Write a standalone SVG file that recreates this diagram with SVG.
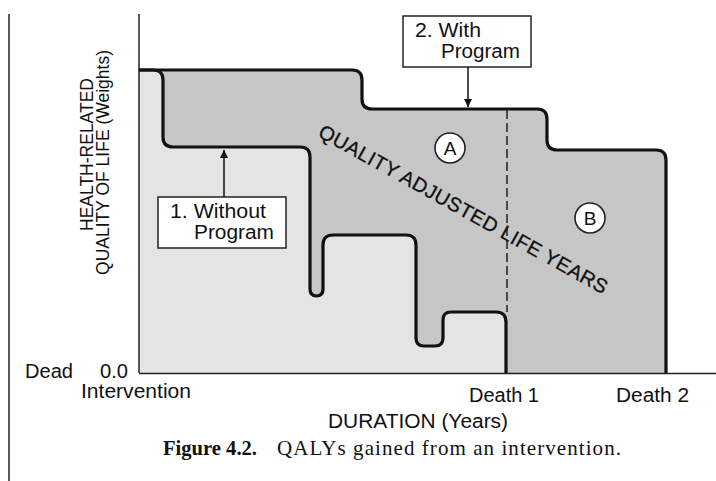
<svg xmlns="http://www.w3.org/2000/svg" width="716" height="481" viewBox="0 0 716 481">
<defs>
<style>
.sans{font-family:"Liberation Sans",Arial,sans-serif;fill:#111}
.lbl{font-size:20px}
.ylbl{font-size:17.5px}
.box{fill:#fff;stroke:#222;stroke-width:1.5}
.curve{fill:none;stroke:#111;stroke-width:3.2;stroke-linejoin:round}
.axis{stroke:#222;stroke-width:1.5;fill:none}
.circ{fill:#fff;stroke:#222;stroke-width:1.6}
.conn{stroke:#111;stroke-width:1.5;fill:none}
</style>
<marker id="ah" viewBox="0 0 10 10" refX="10" refY="5" markerWidth="11" markerHeight="8" markerUnits="userSpaceOnUse" orient="auto">
<path d="M0,0 L10,5 L0,10 Z" fill="#111"/>
</marker>
</defs>
<rect width="716" height="481" fill="#fff"/>

<g id="regions">
<path id="with-program-area" fill="#c6c6c6" d="M139,70 H352 Q362,70 362,80 V99 Q362,109 372,109 H537 Q547,109 547,119 V140 Q547,150 557,150 H656 Q666,150 666,160 V373 H139 Z"/>
<path id="without-program-area" fill="#e4e4e4" d="M139,70 H153 Q163,70 163,80 V137 Q163,147 173,147 H300 Q310,147 310,157 V289 Q310,296 316.5,296 Q323,296 323,289 V245 Q323,235 333,235 H406 Q416,235 416,245 V338 Q416,346 424,346 H435 Q443,346 443,338 V320 Q443,312 451,312 H496 Q506,312 506,322 V373 H139 Z"/>
</g>

<g id="axes">
<line class="axis" x1="9" y1="14" x2="9" y2="481"/>
<line class="axis" x1="139" y1="14" x2="139" y2="373"/>
<line class="axis" x1="139" y1="373.5" x2="716" y2="373.5"/>
</g>

<g id="curves">
<path id="curve-with" class="curve" d="M139,70 H352 Q362,70 362,80 V99 Q362,109 372,109 H537 Q547,109 547,119 V140 Q547,150 557,150 H656 Q666,150 666,160 V373"/>
<path id="curve-without" class="curve" d="M139,70 H153 Q163,70 163,80 V137 Q163,147 173,147 H300 Q310,147 310,157 V289 Q310,296 316.5,296 Q323,296 323,289 V245 Q323,235 333,235 H406 Q416,235 416,245 V338 Q416,346 424,346 H435 Q443,346 443,338 V320 Q443,312 451,312 H496 Q506,312 506,322 V373"/>
<line id="death1-line" x1="507" y1="110" x2="507" y2="312" stroke="#222" stroke-width="1.5" stroke-dasharray="9,4"/>
</g>

<g id="qaly-label">
<text class="sans" font-size="20" stroke="#111" stroke-width="0.3" x="317" y="136" textLength="327" lengthAdjust="spacing" transform="rotate(29 317 136)">QUALITY ADJUSTED LIFE YEARS</text>
</g>

<g id="circle-a">
<circle class="circ" cx="450" cy="148" r="15"/>
<text class="sans" font-size="19" x="450" y="155" text-anchor="middle">A</text>
</g>
<g id="circle-b">
<circle class="circ" cx="590" cy="218" r="15"/>
<text class="sans" font-size="19" x="590" y="225" text-anchor="middle">B</text>
</g>

<g id="box-with-program">
<rect class="box" x="403" y="16" width="128" height="51"/>
<text class="sans lbl" x="415" y="37" textLength="66" lengthAdjust="spacingAndGlyphs">2. With</text>
<text class="sans lbl" x="441" y="58" textLength="79" lengthAdjust="spacingAndGlyphs">Program</text>
</g>

<g id="box-without-program">
<rect class="box" x="158" y="197" width="128" height="51"/>
<text class="sans lbl" x="170" y="218" textLength="96" lengthAdjust="spacingAndGlyphs">1. Without</text>
<text class="sans lbl" x="194" y="239" textLength="80" lengthAdjust="spacingAndGlyphs">Program</text>
</g>

<g id="connectors">
<line class="conn" x1="468" y1="67" x2="468" y2="107" marker-end="url(#ah)"/>
<line class="conn" x1="224" y1="197" x2="224" y2="150" marker-end="url(#ah)"/>
</g>

<g id="axis-labels">
<text class="sans ylbl" transform="translate(93,154.5) rotate(-90)" text-anchor="middle">HEALTH-RELATED</text>
<text class="sans ylbl" transform="translate(109,162.5) rotate(-90)" text-anchor="middle">QUALITY OF LIFE (Weights)</text>
<text class="sans lbl" x="25" y="378" textLength="48" lengthAdjust="spacingAndGlyphs">Dead</text>
<text class="sans lbl" x="100" y="378" textLength="28" lengthAdjust="spacingAndGlyphs">0.0</text>
<text class="sans lbl" x="81" y="398" textLength="110" lengthAdjust="spacingAndGlyphs">Intervention</text>
<text class="sans lbl" x="469" y="402" textLength="70" lengthAdjust="spacingAndGlyphs">Death 1</text>
<text class="sans lbl" x="616" y="402" textLength="73" lengthAdjust="spacingAndGlyphs">Death 2</text>
<text class="sans lbl" x="328" y="428" textLength="180" lengthAdjust="spacingAndGlyphs">DURATION (Years)</text>
</g>

<g id="caption">
<text font-family="'Liberation Serif','Times New Roman',serif" font-size="20.5" font-weight="bold" fill="#111" x="163" y="455" textLength="94" lengthAdjust="spacingAndGlyphs">Figure 4.2.</text>
<text font-family="'Liberation Serif','Times New Roman',serif" font-size="21" fill="#111" x="277" y="455" textLength="344" lengthAdjust="spacing">QALYs gained from an intervention.</text>
</g>
</svg>
